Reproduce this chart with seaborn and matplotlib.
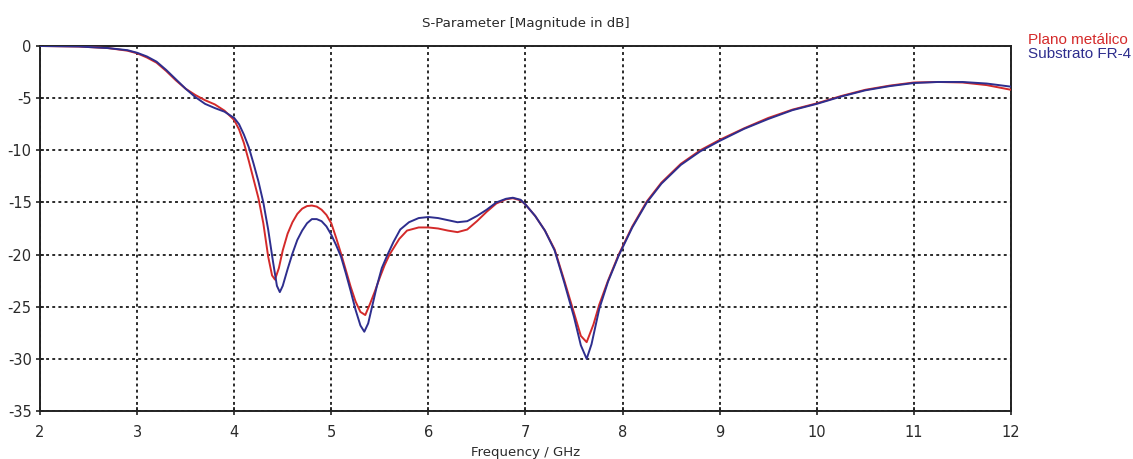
import numpy as np
import pandas as pd
import matplotlib
matplotlib.use("Agg")
import matplotlib.pyplot as plt
import seaborn as sns

# S11 magnitude (dB) versus frequency (GHz) for the two ground configurations
freq_metal = [2.0, 2.4, 2.7, 2.9, 3.0, 3.1, 3.2, 3.3, 3.4, 3.5, 3.6, 3.7, 3.8, 3.9,
              4.0, 4.05, 4.1, 4.15, 4.2, 4.25, 4.3, 4.35, 4.39, 4.42, 4.46, 4.5,
              4.55, 4.6, 4.65, 4.7, 4.75, 4.8, 4.85, 4.9, 4.95, 5.0, 5.05, 5.1,
              5.15, 5.2, 5.25, 5.3, 5.35, 5.4, 5.45, 5.5, 5.55, 5.6, 5.7, 5.78,
              5.9, 6.0, 6.1, 6.2, 6.3, 6.4, 6.5, 6.6, 6.7, 6.8, 6.87, 6.95, 7.0,
              7.1, 7.2, 7.3, 7.4, 7.5, 7.57, 7.63, 7.7, 7.76, 7.85, 7.96, 8.1,
              8.25, 8.4, 8.6, 8.8, 9.0, 9.25, 9.5, 9.75, 10.0, 10.25, 10.5,
              10.75, 11.0, 11.25, 11.5, 11.75, 12.0]
s11_metal = [0.0, -0.05, -0.2, -0.45, -0.7, -1.1, -1.6, -2.4, -3.3, -4.1, -4.7,
             -5.2, -5.6, -6.2, -7.1, -8.0, -9.3, -11.0, -12.8, -14.6, -17.0,
             -20.2, -22.0, -22.4, -21.3, -19.6, -18.0, -16.9, -16.1, -15.6,
             -15.35, -15.3, -15.4, -15.7, -16.2, -17.0, -18.4, -19.9, -21.5,
             -23.1, -24.5, -25.5, -25.8, -24.7, -23.5, -22.2, -21.0, -20.0,
             -18.5, -17.7, -17.4, -17.4, -17.5, -17.7, -17.85, -17.6, -16.8,
             -15.9, -15.1, -14.7, -14.6, -14.8, -15.2, -16.3, -17.7, -19.5,
             -22.5, -25.6, -27.8, -28.4, -26.7, -24.8, -22.5, -20.0, -17.3,
             -14.9, -13.1, -11.3, -10.0, -9.0, -7.9, -6.9, -6.1, -5.5, -4.8,
             -4.2, -3.8, -3.5, -3.45, -3.5, -3.75, -4.2]

freq_fr4 = [2.0, 2.4, 2.7, 2.9, 3.0, 3.1, 3.2, 3.3, 3.4, 3.5, 3.6, 3.7, 3.8, 3.9,
            4.0, 4.05, 4.1, 4.15, 4.2, 4.25, 4.3, 4.35, 4.4, 4.44, 4.47, 4.5,
            4.55, 4.6, 4.65, 4.7, 4.75, 4.8, 4.85, 4.9, 4.95, 5.0, 5.05, 5.1,
            5.15, 5.2, 5.25, 5.3, 5.34, 5.38, 5.42, 5.47, 5.52, 5.58, 5.64,
            5.71, 5.8, 5.9, 6.0, 6.1, 6.2, 6.3, 6.4, 6.5, 6.6, 6.7, 6.8, 6.87,
            6.95, 7.0, 7.1, 7.2, 7.3, 7.4, 7.5, 7.57, 7.63, 7.68, 7.76, 7.85,
            7.96, 8.1, 8.25, 8.4, 8.6, 8.8, 9.0, 9.25, 9.5, 9.75, 10.0, 10.25,
            10.5, 10.75, 11.0, 11.25, 11.5, 11.75, 12.0]
s11_fr4 = [0.0, -0.05, -0.2, -0.4, -0.65, -1.0, -1.5, -2.3, -3.2, -4.1, -4.9,
           -5.55, -5.95, -6.3, -6.9, -7.5, -8.5, -9.7, -11.3, -13.0, -15.0,
           -17.6, -20.7, -23.0, -23.6, -23.0, -21.4, -19.9, -18.6, -17.7,
           -17.0, -16.6, -16.6, -16.8, -17.3, -18.1, -19.1, -20.2, -21.8,
           -23.5, -25.3, -26.8, -27.4, -26.6, -25.0, -23.0, -21.3, -20.0,
           -18.8, -17.6, -16.9, -16.5, -16.4, -16.5, -16.7, -16.9, -16.8,
           -16.3, -15.7, -15.0, -14.65, -14.55, -14.75, -15.2, -16.3, -17.7,
           -19.6, -22.7, -26.0, -28.7, -30.0, -28.6, -25.2, -22.6, -20.1,
           -17.4, -15.0, -13.2, -11.4, -10.1, -9.1, -7.95, -7.0, -6.15, -5.55,
           -4.85, -4.25, -3.85, -3.55, -3.45, -3.45, -3.6, -3.9]

series_names = ["Plano metálico", "Substrato FR-4"]
series_colors = ["#d42a2a", "#2e2e8e"]
x_ticks = [2, 3, 4, 5, 6, 7, 8, 9, 10, 11, 12]
y_ticks = [0, -5, -10, -15, -20, -25, -30, -35]

df = pd.concat([
    pd.DataFrame({"freq": freq_metal, "s11": s11_metal, "case": series_names[0]}),
    pd.DataFrame({"freq": freq_fr4, "s11": s11_fr4, "case": series_names[1]}),
], ignore_index=True)

sns.set_theme(style="white")
plt.rcParams["font.family"] = ["DejaVu Sans"]
plt.rcParams["axes.unicode_minus"] = False

fig = plt.figure(figsize=(11.33, 4.59), dpi=100)
ax = fig.add_axes([0.0353, 0.1046, 0.8570, 0.7952])

sns.lineplot(data=df, x="freq", y="s11", hue="case", hue_order=series_names,
             palette=dict(zip(series_names, series_colors)), sort=False,
             estimator=None, linewidth=1.4, ax=ax, legend=False, zorder=3)

ax.set_xlim(2, 12)
ax.set_ylim(-35, 0)
ax.set_xticks(x_ticks)
ax.set_yticks(y_ticks)
ax.set_xticklabels([str(t) for t in x_ticks])
ax.set_yticklabels([str(t) for t in y_ticks])

ax.grid(True, color="#1a1a1a", linestyle=(0, (1.6, 1.8)), linewidth=1.3, zorder=1)
for side in ["left", "right", "top", "bottom"]:
    ax.spines[side].set_visible(True)
    ax.spines[side].set_color("#222222")
    ax.spines[side].set_linewidth(1.4)
ax.tick_params(axis="both", direction="inout", length=6, width=1.2,
               color="#222222", labelsize=10.5, labelcolor="#2a2a2a",
               bottom=True, left=True)
ax.tick_params(axis="x", pad=7)
ax.tick_params(axis="y", pad=3)

ax.set_xlabel("Frequency / GHz", fontsize=9.5, color="#2a2a2a")
ax.xaxis.label.set_va("center")
ax.xaxis.set_label_coords(0.5, -0.113)
ax.set_ylabel("")
ax.set_title("S-Parameter [Magnitude in dB]", fontsize=9.6, color="#2a2a2a", pad=14)

for i, (name, col) in enumerate(zip(series_names, series_colors)):
    fig.text(0.9075, 0.9128 - i * 0.0305, name, color=col, fontsize=11.0,
             family="Liberation Sans", ha="left", va="center")

fig.savefig("out.png", dpi=100, facecolor="white")
